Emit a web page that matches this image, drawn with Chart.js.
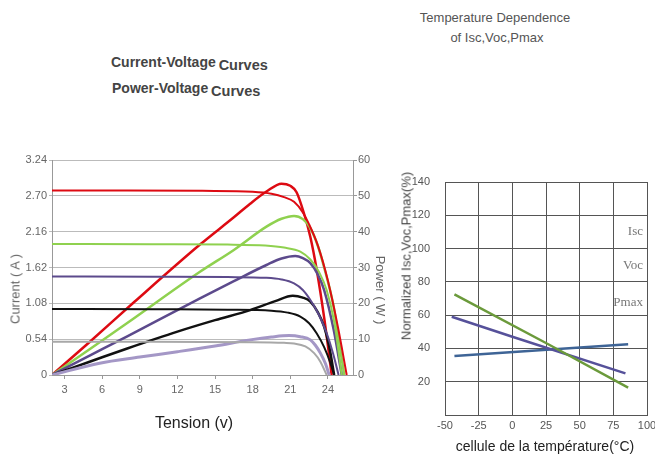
<!DOCTYPE html>
<html>
<head>
<meta charset="utf-8">
<script src="https://cdn.jsdelivr.net/npm/chart.js@4.4.1/dist/chart.umd.min.js"></script>
<style>
  html, body { margin: 0; padding: 0; background: #fff; }
  body { width: 655px; height: 459px; overflow: hidden; position: relative; font-family: "Liberation Sans", Arial, sans-serif; }
  .abs { position: absolute; white-space: nowrap; line-height: 1; }
  .head { font-weight: bold; font-size: 14px; color: #444; }
  .head span { position: relative; top: 3px; font-size: 14.5px; margin-left: -1px; }
  .sub { font-size: 13px; color: #555; text-align: center; width: 200px; }
  .mid { transform: translate(-50%, -50%); }
  .up { transform: translate(-50%, -50%) rotate(-90deg); }
  .down { transform: translate(-50%, -50%) rotate(90deg); }
  canvas { position: absolute; }
</style>
</head>
<body>

<div class="abs head" style="left:111px; top:55px;">Current-Voltage <span>Curves</span></div>
<div class="abs head" style="left:112px; top:81px;">Power-Voltage <span>Curves</span></div>
<div class="abs sub" style="left:395px; top:11px;">Temperature Dependence</div>
<div class="abs sub" style="left:397px; top:31px;">of Isc,Voc,Pmax</div>

<canvas id="ivChart" width="400" height="290" style="left:0; top:150px;"></canvas>
<canvas id="tempChart" width="280" height="289" style="left:395px; top:170px;"></canvas>

<div class="abs up" style="left:15px; top:289px; font-size:13px; color:#666;">Current ( A )</div>
<div class="abs down" style="left:380px; top:290px; font-size:13px; color:#666;">Power ( W )</div>
<div class="abs mid" style="left:194px; top:423px; font-size:16px; color:#222;">Tension (v)</div>
<div class="abs up" style="left:406px; top:256px; font-size:13px; color:#444;">Normalized Isc,Voc,Pmax(%)</div>
<div class="abs mid" style="left:545px; top:446px; font-size:14px; color:#222;">cellule de la température(°C)</div>

<script>
// tick labels
const voltTicks = [3, 6, 9, 12, 15, 18, 21, 24];
const currentTicks = [0, 0.54, 1.08, 1.62, 2.16, 2.70, 3.24];
const powerTicks = [0, 10, 20, 30, 40, 50, 60];
const tempTicks = [-50, -25, 0, 25, 50, 75, 100];
const pctTicks = [0, 20, 40, 60, 80, 100, 120, 140];

// I-V curves [volts, amps]
const redIV = [[2, 2.78], [8, 2.78], [14, 2.775], [18, 2.76], [19.5, 2.73], [20.5, 2.68], [21.3, 2.61], [22.0, 2.45], [22.5, 2.27], [23.2, 1.95], [24, 1.42], [24.8, 0.72], [25.5, 0]];
const greenIV = [[2, 1.975], [10, 1.97], [16, 1.965], [19, 1.95], [20.5, 1.92], [21.8, 1.86], [22.6, 1.74], [23.3, 1.55], [23.9, 1.28], [24.5, 0.8], [25.1, 0]];
const purpleIV = [[2, 1.485], [10, 1.48], [16, 1.475], [19.1, 1.465], [20.3, 1.44], [21.3, 1.38], [22.0, 1.28], [22.6, 1.13], [23.3, 0.9], [23.9, 0.63], [24.4, 0.33], [24.85, 0]];
const blackIV = [[2, 0.995], [10, 0.99], [16, 0.985], [19.5, 0.97], [20.8, 0.94], [21.8, 0.88], [22.5, 0.78], [23.1, 0.63], [23.7, 0.42], [24.2, 0.18], [24.5, 0]];
const grayIV = [[2, 0.5], [10, 0.5], [18, 0.495], [20.5, 0.485], [21.3, 0.475], [22.2, 0.43], [22.9, 0.33], [23.4, 0.2], [23.9, 0]];

// P-V curves [volts, watts]
const redPV = [[2, 0], [5, 9.2], [8.6, 20.5], [13.8, 36.4], [16.5, 44.0], [17.8, 47.8], [19.1, 51.2], [20.3, 53.4], [21.0, 52.8], [21.5, 51], [22.1, 45], [22.6, 38.5], [23.1, 29.5], [23.7, 16], [24.3, 0]];
const greenPV = [[2, 0], [5, 7.2], [8, 14.5], [13.8, 28.8], [16.5, 34.9], [19.1, 41.4], [20.3, 43.6], [21.3, 44.4], [22.0, 43.5], [22.6, 41], [23.2, 36], [23.7, 30], [24.46, 19], [24.9, 9], [25.3, 0]];
const purplePV = [[2, 0], [5, 5.4], [8, 10.8], [13.8, 21.4], [16.5, 26.2], [19.1, 30.7], [20.3, 32.5], [21.4, 33.2], [22.0, 32.6], [22.6, 31.2], [23.2, 28], [23.7, 23.7], [24.46, 12.6], [25.1, 0]];
const blackPV = [[2, 0], [5, 3.7], [8, 7.4], [12, 12.1], [15, 15.3], [17.8, 18.1], [19.8, 20.6], [21.2, 22.1], [22, 21.6], [22.6, 20.5], [23.2, 17.5], [23.7, 13.5], [24.1, 8], [24.5, 0]];
const lilacPV = [[2, 0], [5.8, 3.3], [9, 5.0], [12, 6.5], [15, 8.1], [17.8, 9.8], [19.5, 10.6], [20.9, 11.0], [21.8, 10.7], [22.6, 9.8], [23.0, 8.3], [23.4, 6.1], [23.8, 3.2], [24.1, 0]];

// temperature dependence [°C, %]
const iscLine = [[-43, 35.5], [86, 42.5]];
const vocLine = [[-45, 59], [0, 47], [84, 25]];
const pmaxLine = [[-43, 72.5], [26, 42.8], [86, 16.5]];
const seriesNames = ["Isc", "Voc", "Pmax"];
const nameLevels = [110, 90, 67.5];
const nameTemp = 97;

const pts = arr => arr.map(p => ({ x: p[0], y: p[1] }));
const setTicks = list => s => { s.ticks = list.map(v => ({ value: v })); };

function curve(arr, color, axis, width) {
  return { data: pts(arr), borderColor: color, borderWidth: width, yAxisID: axis, fill: false };
}

new Chart(document.getElementById("ivChart"), {
  type: "line",
  data: {
    datasets: [
      curve(grayIV, "#a8a8a8", "y", 2),
      curve(blackIV, "#111", "y", 2),
      curve(purpleIV, "#5c4a8c", "y", 2),
      curve(greenIV, "#8fd14f", "y", 2),
      curve(redIV, "#dd0a12", "y", 2),
      curve(lilacPV, "#a497c6", "y1", 3),
      curve(blackPV, "#111", "y1", 2.5),
      curve(purplePV, "#5c4a8c", "y1", 2.5),
      curve(greenPV, "#8fd14f", "y1", 2.5),
      curve(redPV, "#dd0a12", "y1", 2.5),
    ],
  },
  options: {
    responsive: false,
    animation: false,
    layout: { padding: { top: 10, left: 0, right: 0, bottom: 0 } },
    plugins: { legend: { display: false }, tooltip: { enabled: false } },
    elements: { point: { radius: 0 }, line: { cubicInterpolationMode: "monotone" } },
    scales: {
      x: {
        type: "linear", min: 2, max: 26,
        afterBuildTicks: setTicks(voltTicks),
        afterFit: s => { s.height = 65; },
        grid: { drawOnChartArea: false, tickLength: 4, color: "#999" },
        border: { color: "#999" },
        ticks: { color: "#666", font: { size: 11 }, padding: 4 },
      },
      y: {
        position: "left", min: 0, max: 3.24,
        afterBuildTicks: setTicks(currentTicks),
        afterFit: s => { s.width = 52; },
        grid: { color: "#bbb", tickLength: 3 },
        border: { color: "#999" },
        ticks: { color: "#666", font: { size: 11 }, padding: 2, callback: v => (v === 0 ? "0" : v.toFixed(2)) },
      },
      y1: {
        position: "right", min: 0, max: 60,
        afterBuildTicks: setTicks(powerTicks),
        afterFit: s => { s.width = 47; },
        grid: { drawOnChartArea: false, tickLength: 4, color: "#999" },
        border: { color: "#999" },
        ticks: { color: "#666", font: { size: 11 }, padding: 1 },
      },
    },
  },
});

const namePlugin = {
  id: "seriesNames",
  afterDatasetsDraw(chart) {
    const { ctx, scales: { x, y } } = chart;
    ctx.save();
    ctx.font = '13px "Liberation Serif", "DejaVu Serif", serif';
    ctx.fillStyle = "#777";
    ctx.textAlign = "right";
    ctx.textBaseline = "middle";
    seriesNames.forEach((n, i) => {
      ctx.fillText(n, x.getPixelForValue(nameTemp), y.getPixelForValue(nameLevels[i]));
    });
    ctx.restore();
  },
};

new Chart(document.getElementById("tempChart"), {
  type: "line",
  data: {
    datasets: [
      { data: pts(pmaxLine), borderColor: "#6b9a3b", borderWidth: 2.5 },
      { data: pts(vocLine), borderColor: "#56519a", borderWidth: 2.5 },
      { data: pts(iscLine), borderColor: "#3e6496", borderWidth: 2.5 },
    ],
  },
  options: {
    responsive: false,
    animation: false,
    layout: { padding: { top: 12, right: 28, left: 0, bottom: 0 } },
    plugins: { legend: { display: false }, tooltip: { enabled: false } },
    elements: { point: { radius: 0 } },
    scales: {
      x: {
        type: "linear", min: -50, max: 100,
        afterBuildTicks: setTicks(tempTicks),
        afterFit: s => { s.height = 44; },
        grid: { color: "#555", drawTicks: false },
        border: { color: "#555" },
        ticks: { color: "#555", font: { size: 11 }, padding: 4 },
      },
      y: {
        min: 0, max: 140,
        afterBuildTicks: setTicks(pctTicks),
        afterFit: s => { s.width = 50; s.paddingTop = 7; s.paddingBottom = 0; },
        grid: { color: "#555", drawTicks: false },
        border: { color: "#555" },
        ticks: { color: "#555", font: { size: 11 }, padding: 15, callback: v => (v === 0 ? "" : v) },
      },
    },
  },
  plugins: [namePlugin],
});
</script>
</body>
</html>
